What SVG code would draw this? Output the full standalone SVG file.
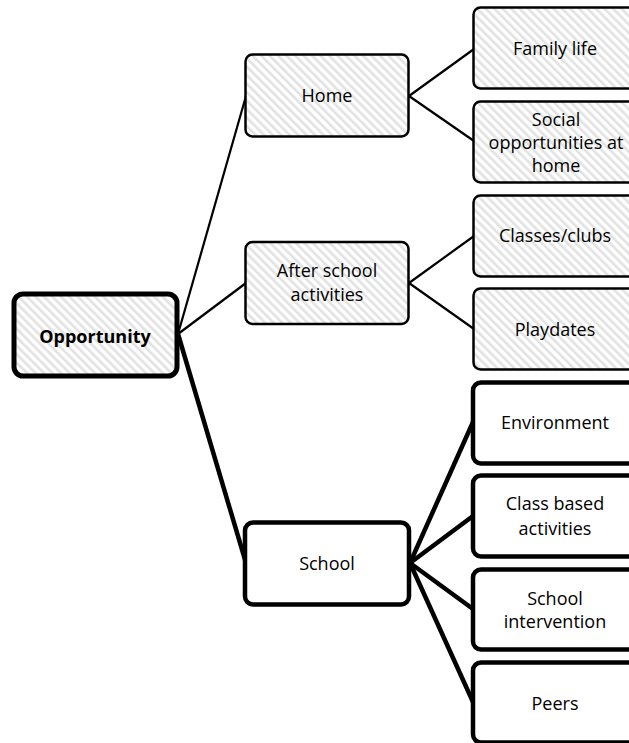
<svg xmlns="http://www.w3.org/2000/svg" width="629" height="743" viewBox="0 0 629 743">
<defs>
<pattern id="hatch" patternUnits="userSpaceOnUse" width="6" height="6" patternTransform="rotate(-45)">
<rect width="6" height="6" fill="#ffffff"/>
<rect x="0" y="0" width="2.6" height="6" fill="#e2e2e2"/>
</pattern>
</defs>
<style>
.thin{fill:url(#hatch);stroke:#000;stroke-width:2.5}
.thick{fill:#fff;stroke:#000;stroke-width:4.5}
.root{fill:url(#hatch);stroke:#000;stroke-width:5}
text{font-family:"Open Sans","Liberation Sans",sans-serif;font-size:18px;fill:#000;text-anchor:middle}
.b{font-weight:bold}
.c1{stroke:#000;stroke-width:2.2;fill:none}
.c2{stroke:#000;stroke-width:4.5;fill:none}
</style>
<rect width="629" height="743" fill="#fff"/>
<g id="connectors">
<line class="c1" x1="178" y1="334" x2="246" y2="96"/>
<line class="c1" x1="178" y1="334" x2="246" y2="283"/>
<line class="c2" x1="178" y1="334" x2="246" y2="563"/>
<line class="c1" x1="409" y1="96" x2="474" y2="49"/>
<line class="c1" x1="409" y1="96" x2="474" y2="141"/>
<line class="c1" x1="409" y1="283" x2="474" y2="236"/>
<line class="c1" x1="409" y1="283" x2="474" y2="329"/>
<line class="c2" x1="410" y1="563" x2="473" y2="422"/>
<line class="c2" x1="410" y1="563" x2="473" y2="516"/>
<line class="c2" x1="410" y1="563" x2="473" y2="609"/>
<line class="c2" x1="410" y1="563" x2="473" y2="702"/>
</g>
<g id="opportunity">
<rect class="root" x="14" y="294" width="163" height="82" rx="9"/>
<text class="b" x="95" y="343">Opportunity</text>
</g>
<g id="home">
<rect class="thin" x="245.5" y="54.5" width="163" height="82" rx="7"/>
<text x="327" y="102">Home</text>
</g>
<g id="after-school">
<rect class="thin" x="245.5" y="242" width="163" height="82" rx="7"/>
<text x="327" y="277">After school</text>
<text x="327" y="301">activities</text>
</g>
<g id="school">
<rect class="thick" x="245" y="522.5" width="164" height="82" rx="8"/>
<text x="327" y="570">School</text>
</g>
<g id="family-life">
<rect class="thin" x="473.5" y="7.5" width="164" height="81" rx="7"/>
<text x="555" y="55">Family life</text>
</g>
<g id="social">
<rect class="thin" x="473.5" y="101.5" width="164" height="81" rx="7"/>
<text x="556" y="126">Social</text>
<text x="556" y="149">opportunities at</text>
<text x="556" y="172">home</text>
</g>
<g id="classes">
<rect class="thin" x="473.5" y="195.5" width="164" height="81" rx="7"/>
<text x="555" y="242">Classes/clubs</text>
</g>
<g id="playdates">
<rect class="thin" x="473.5" y="288.5" width="164" height="81" rx="7"/>
<text x="555" y="336">Playdates</text>
</g>
<g id="environment">
<rect class="thick" x="473" y="382.5" width="165" height="81" rx="8"/>
<text x="555" y="429">Environment</text>
</g>
<g id="class-based">
<rect class="thick" x="473" y="475.5" width="165" height="81" rx="8"/>
<text x="555" y="510">Class based</text>
<text x="555" y="535">activities</text>
</g>
<g id="school-intervention">
<rect class="thick" x="473" y="569.5" width="165" height="80" rx="8"/>
<text x="555" y="605">School</text>
<text x="555" y="628">intervention</text>
</g>
<g id="peers">
<rect class="thick" x="473" y="662.5" width="165" height="80" rx="8"/>
<text x="555" y="710">Peers</text>
</g>
</svg>
